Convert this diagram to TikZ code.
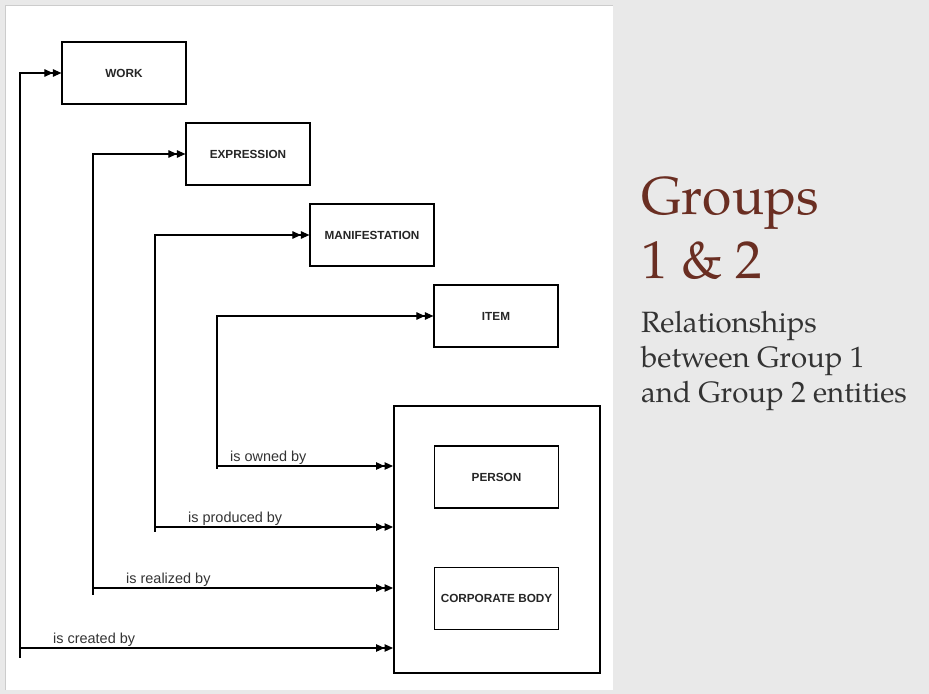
\documentclass[tikz,border=0pt]{standalone}
\usepackage{fontspec}
\setmainfont{Liberation Sans}
\newfontfamily\pagella{texgyrepagella-regular.otf}
\usetikzlibrary{arrows.meta, positioning}

\definecolor{panelgray}{HTML}{E9E9E9}
\definecolor{titlebrown}{HTML}{6A2E22}
\definecolor{subgray}{HTML}{333333}

\tikzset{
	entity/.style={draw, line width=1.2pt, minimum width=124bp, minimum height=62bp,
		inner sep=0pt, text=black!85, font=\bfseries\fontsize{11.8}{13}\selectfont},
	link/.style={line width=1.1pt},
	dbl/.tip={Triangle[length=8.5bp,width=7.5bp] Triangle[length=8.5bp,width=7.5bp]},
	rellabel/.style={anchor=base west, inner sep=0pt, font=\fontsize{14.5}{16}\selectfont, text=black!80}
}

\begin{document}
\begin{tikzpicture}[x=1bp,y=-1bp]
		\useasboundingbox (0,0) rectangle (929,694);
		\fill[panelgray] (0,0) rectangle (929,694);
		\fill[white] (5,5) rectangle (613,690);
		\draw[black!20] (5,690) -- (5,5) -- (613,5);
	
		% group 1
		\node[entity] (work) at (124,73) {WORK};
		\node[entity] (expr) at (248,154) {EXPRESSION};
		\node[entity] (manif) at (372,235) {MANIFESTATION};
		\node[entity] (item) at (496,316) {ITEM};
		
		% group 2
		\node[draw, line width=2pt, minimum width=206bp, minimum height=267bp] (group2) at (497,539.5) {};
		\node[entity] (person) at (496.5,477) {PERSON};
		\node[entity] (corp) at (496.5,598.5) {CORPORATE BODY};
	
		\coordinate (cw) at (20,648);
		\coordinate (ce) at (93,588);
		\coordinate (cm) at (155,527);
		\coordinate (ci) at (217,466);
		
		\draw[link,dbl-dbl] (work.west) -| (cw) -- (cw -| group2.west);
		\draw[link,dbl-dbl] (expr.west) -| (ce) -- (ce -| group2.west);
		\draw[link,dbl-dbl] (manif.west) -| (cm) -- (cm -| group2.west);
		\draw[link,dbl-dbl] (item.west) -| (ci) -- (ci -| group2.west);
		\draw[link] (cw) -- ++(0,10);
		\draw[link] (ce) -- ++(0,7);
		\draw[link] (cm) -- ++(0,5);
		\draw[link] (ci) -- ++(0,3);
		
		\node[rellabel] (lw) at (53,643) {is created by};
		\node[rellabel] (le) at (126,583) {is realized by};
		\node[rellabel] (lm) at (188,522) {is produced by};
		\node[rellabel] (li) at (230,461) {is owned by};
	
		% title
		\node[anchor=base west, inner sep=0pt, align=left, text=titlebrown,
			font=\pagella\fontsize{53.5}{64}\selectfont] (title) at (641,278) {Groups\\1 \& 2};
		\node[anchor=base west, inner sep=0pt, align=left, text=subgray,
			font=\pagella\fontsize{29.5}{35}\selectfont] (subtitle) at (641,402)
			{Relationships\\between Group 1\\and Group 2 entities};
	\end{tikzpicture}
\end{document}
